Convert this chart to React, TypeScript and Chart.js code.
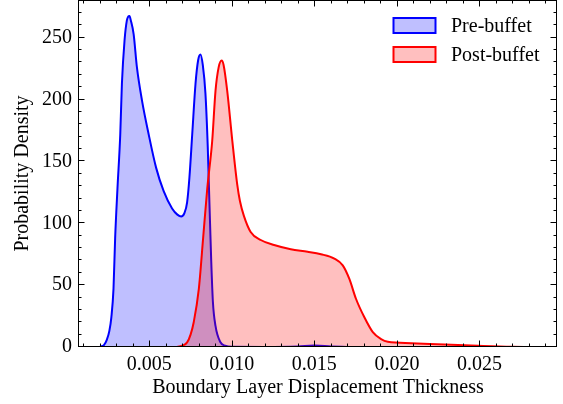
import React, { useEffect, useRef } from 'react';
import { Chart, registerables } from 'chart.js';

Chart.register(...registerables);

// Pre-buffet KDE curve (x, density)
const preX = [
  0.00202, 0.00225, 0.00243, 0.00258, 0.0027, 0.00283, 0.00293, 0.00307, 0.00324, 0.00334,
  0.0035, 0.00364, 0.00372, 0.0038, 0.00388, 0.00405, 0.00425, 0.00456, 0.00496, 0.00541,
  0.00587, 0.00638, 0.0067, 0.00693, 0.00712, 0.00729, 0.00743, 0.0076, 0.0078, 0.00796,
  0.0081, 0.00824, 0.0084, 0.00854, 0.0086, 0.00868, 0.00875, 0.00885, 0.00901, 0.0093,
  0.0096, 0.01, 0.012, 0.014, 0.015, 0.016, 0.017,
];
const preY = [
  0.3, 1.5, 6, 13, 24, 47, 88, 128, 172, 213,
  248, 264, 267, 267.5, 264, 253, 226, 199, 172, 145,
  126, 112, 107, 105.5, 108, 117, 137, 172, 213, 232,
  236.5, 228, 205, 162, 135, 100, 70, 37, 17, 4,
  1, 0.2, 0.1, 0.5, 1.2, 0.5, 0,
];

// Post-buffet KDE curve (x, density)
const postX = [
  0.0066, 0.007, 0.00729, 0.0075, 0.00769, 0.008, 0.00826, 0.00851, 0.00881, 0.00901,
  0.0092, 0.00938, 0.0095, 0.00972, 0.01003, 0.01033, 0.01049, 0.01073, 0.01114, 0.01175,
  0.01256, 0.01357, 0.01459, 0.0154, 0.01621, 0.01672, 0.01712, 0.01752, 0.01803, 0.01854,
  0.01904, 0.01945, 0.02087, 0.02288, 0.02492, 0.02695, 0.02859,
];
const postY = [
  0, 1, 3.7, 10, 20, 47, 88, 128, 166.5, 207,
  226, 231.5, 228, 207, 166.5, 131, 118, 106, 93, 86.5,
  82.4, 79, 77, 75, 71.5, 66, 55, 39, 24, 12,
  6.4, 4.2, 3.1, 2, 1, 0.2, 0,
];

const seriesLabels = ['Pre-buffet', 'Post-buffet'];
const xTicks = [0.005, 0.01, 0.015, 0.02, 0.025];
const yTicks = [0, 50, 100, 150, 200, 250];
const xMinorTicks = [
  0.001, 0.002, 0.003, 0.004, 0.006, 0.007, 0.008, 0.009, 0.011, 0.012, 0.013, 0.014,
  0.016, 0.017, 0.018, 0.019, 0.021, 0.022, 0.023, 0.024, 0.026, 0.027, 0.028, 0.029,
];
const yMinorTicks = [10, 20, 30, 40, 60, 70, 80, 90, 110, 120, 130, 140, 160, 170, 180, 190, 210, 220, 230, 240, 260, 270, 280];
const xLimits = [0.00074, 0.0297];
const yLimits = [0, 280.5];
const xTitle = 'Boundary Layer Displacement Thickness';
const yTitle = 'Probability Density';

const FONT = "'Liberation Serif', 'Times New Roman', serif";

const framePlugin = {
  id: 'framePlugin',
  afterDraw(chart: any) {
    const { ctx, chartArea: a, scales } = chart;
    const xs = scales.x;
    const ys = scales.y;
    ctx.save();
    ctx.strokeStyle = '#000';
    ctx.lineWidth = 1;
    const L = Math.round(a.left) - 0.5;
    const R = Math.round(a.right) - 0.5;
    const T = Math.round(a.top) + 0.5;
    const B = Math.round(a.bottom) - 0.5;
    ctx.strokeRect(L, T, R - L, B - T);
    const major = 6;
    const minor = 3;
    ctx.beginPath();
    const vx = (v: number, len: number) => {
      const p = Math.round(xs.getPixelForValue(v)) + 0.5;
      ctx.moveTo(p, B);
      ctx.lineTo(p, B - len);
      ctx.moveTo(p, T);
      ctx.lineTo(p, T + len);
    };
    const vy = (v: number, len: number) => {
      const p = Math.round(ys.getPixelForValue(v)) - 0.5;
      ctx.moveTo(L, p);
      ctx.lineTo(L + len, p);
      ctx.moveTo(R, p);
      ctx.lineTo(R - len, p);
    };
    xTicks.forEach((v) => vx(v, major));
    xMinorTicks.forEach((v) => vx(v, minor));
    yTicks.forEach((v) => vy(v, major));
    yMinorTicks.forEach((v) => vy(v, minor));
    ctx.stroke();

    // legend
    const ds = chart.data.datasets;
    const boxL = 393.5;
    const boxW = 42;
    const boxH = 15;
    const rows = [18, 47];
    ds.forEach((d: any, i: number) => {
      const y = rows[i];
      ctx.fillStyle = d.backgroundColor;
      ctx.fillRect(boxL, y, boxW, boxH);
      ctx.strokeStyle = d.borderColor;
      ctx.lineWidth = 2;
      ctx.strokeRect(boxL, y, boxW, boxH);
      ctx.fillStyle = '#000';
      ctx.font = `20px ${FONT}`;
      ctx.textBaseline = 'middle';
      ctx.textAlign = 'left';
      ctx.fillText(d.label, 451, y + boxH / 2 + 1);
    });
    ctx.restore();
  },
};

export default function App() {
  const ref = useRef<HTMLCanvasElement | null>(null);

  useEffect(() => {
    if (!ref.current) return;
    const pre = preX.map((x, i) => ({ x, y: preY[i] }));
    const post = postX.map((x, i) => ({ x, y: postY[i] }));
    const chart = new Chart(ref.current, {
      type: 'line',
      data: {
        datasets: [
          {
            label: seriesLabels[0],
            data: pre,
            borderColor: '#0000ff',
            backgroundColor: 'rgba(0,0,255,0.25)',
            borderWidth: 2,
            pointRadius: 0,
            fill: 'origin',
            cubicInterpolationMode: 'monotone',
            order: 2,
          },
          {
            label: seriesLabels[1],
            data: post,
            borderColor: '#ff0000',
            backgroundColor: 'rgba(255,0,0,0.25)',
            borderWidth: 2,
            pointRadius: 0,
            fill: 'origin',
            cubicInterpolationMode: 'monotone',
            order: 1,
          },
        ],
      },
      options: {
        responsive: false,
        animation: false,
        devicePixelRatio: 1,
        layout: { padding: { top: 0, right: 6, bottom: 0, left: 0 } },
        plugins: {
          legend: { display: false },
          tooltip: { enabled: false },
        },
        scales: {
          x: {
            type: 'linear',
            min: xLimits[0],
            max: xLimits[1],
            grid: { display: false, drawTicks: false },
            border: { display: false },
            afterBuildTicks: (s: any) => {
              s.ticks = xTicks.map((v) => ({ value: v }));
            },
            afterFit: (s: any) => {
              s.height = 57;
              s.paddingLeft = 0;
              s.paddingRight = 0;
            },
            ticks: {
              maxRotation: 0,
              autoSkip: false,
              padding: 6,
              color: '#000',
              font: { family: FONT, size: 20 },
              callback: (v: any) => Number(v).toFixed(3),
            },
            title: {
              display: true,
              text: xTitle,
              color: '#000',
              font: { family: FONT, size: 20 },
              padding: { top: 0, bottom: 4.5 },
            },
          },
          y: {
            type: 'linear',
            min: yLimits[0],
            max: yLimits[1],
            grid: { display: false, drawTicks: false },
            border: { display: false },
            afterBuildTicks: (s: any) => {
              s.ticks = yTicks.map((v) => ({ value: v }));
            },
            afterFit: (s: any) => {
              s.width = 79;
              s.paddingTop = 0;
              s.paddingBottom = 0;
            },
            ticks: {
              autoSkip: false,
              padding: 7,
              color: '#000',
              font: { family: FONT, size: 20 },
              callback: (v: any) => String(v),
            },
            title: {
              display: true,
              text: yTitle,
              color: '#000',
              font: { family: FONT, size: 20 },
              padding: { top: 11, bottom: 0 },
            },
          },
        },
      },
      plugins: [framePlugin],
    } as any);
    return () => chart.destroy();
  }, []);

  return (
    <div style={{ position: 'absolute', left: 0, top: 0, width: 563, height: 404 }}>
      <canvas ref={ref} width={563} height={404} />
    </div>
  );
}
